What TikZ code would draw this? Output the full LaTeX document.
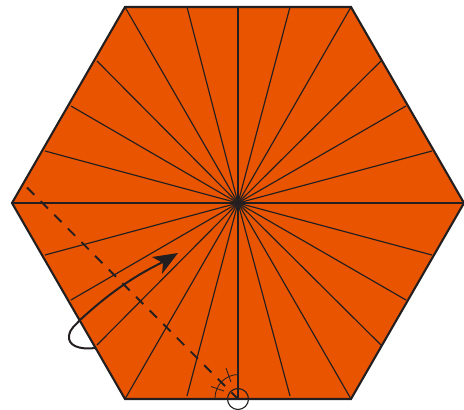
\documentclass[tikz,border=0pt]{standalone}
\definecolor{paper}{HTML}{E85400}
\definecolor{ink}{HTML}{231F20}
\tikzset{
  hexface/.style={fill=paper,draw=ink,line width=2.1pt,line join=miter},
  rayline/.style={draw=ink,line width=1.15pt},
  foldline/.style={draw=ink,line width=1.9pt,dash pattern=on 10.3pt off 9pt},
  thinmark/.style={draw=ink,line width=0.8pt},
  motion/.style={draw=ink,line width=2pt,line cap=round}
}
\begin{document}
\begin{tikzpicture}[x=1pt,y=-1pt]
\useasboundingbox (0,0) rectangle (464,410);
\coordinate (C) at (238,203);
\coordinate (P) at (238,399);
\draw[hexface] (12,203) -- (125,7) -- (351,7) -- (464,203) -- (351,399) -- (125,399) -- cycle;
\foreach \x/\y in {125/7,187/7,238/7,290/7,351/7,
                   381/61,406/106,432/151,464/203,
                   432/255,406/300,381/345,
                   351/399,290/396,238/399,187/396,125/399,
                   97/345,71/300,45/255,12/203,
                   45/151,71/106,97/61}
  \draw[rayline] (C) -- (\x,\y);
\draw[foldline] (27,187.5) -- (P);
\draw[thinmark] (215,398) arc[start angle=180,end angle=270,radius=23.5];
\draw[thinmark] (211,386.5) -- (224,391);
\draw[thinmark] (226,368) -- (231,382);
\draw[thinmark,line width=1.1pt] (P) circle[radius=10.5];
\draw[motion] (95,348) .. controls (78,350) and (68,345) .. (69,336)
  .. controls (70,328) and (76,325) .. (80,320)
  .. controls (105,297) and (130,278) .. (163,262);
\fill[ink] (178,253) -- (152,257) -- (163,263) -- (162,274) -- cycle;
\end{tikzpicture}
\end{document}
